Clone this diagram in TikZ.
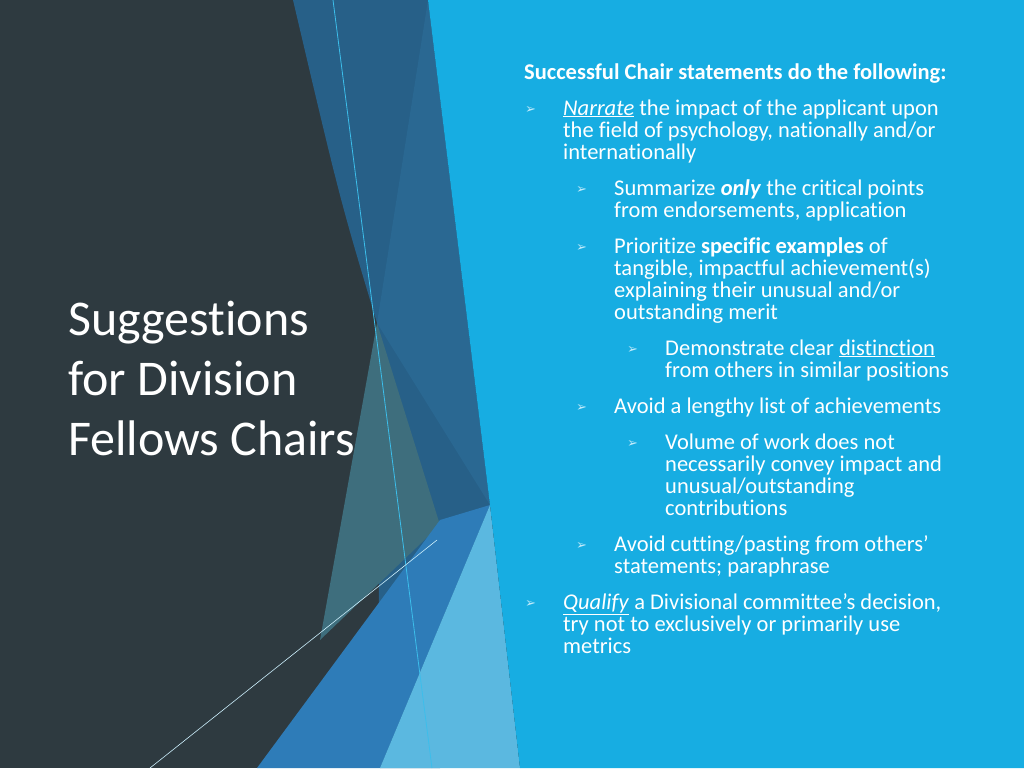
\documentclass[tikz,border=0pt]{standalone}
\usepackage{fontspec}
\setmainfont{Carlito}[RawFeature=-liga]
\newfontfamily\djv{DejaVu Sans}
\begin{document}
\begin{tikzpicture}[x=1pt,y=-1pt,
  t/.style={anchor=base west,inner sep=0pt,text=white,font=\fontsize{22.5}{25}\selectfont},
  ti/.style={anchor=base west,inner sep=0pt,text=white,font=\fontsize{50}{56}\selectfont},
  bl/.style={anchor=base west,inner sep=0pt,text=white!75!cyan,font=\djv\fontsize{13}{15}\selectfont}]
\useasboundingbox (0,0) rectangle (1024,768);
\fill[fill={rgb,255:red,46;green,58;blue,64}] (0,0) rectangle (1024,768);
\fill[fill={rgb,255:red,39;green,96;blue,136}] (293,0) -- (428,0) -- (490,505) -- (440,768) -- (380,768) -- (377,323) .. controls (340,200) .. (293,0) -- cycle;
\fill[fill={rgb,255:red,42;green,104;blue,146}] (377,323) -- (428,0) -- (490,505) -- cycle;
\fill[fill={rgb,255:red,62;green,110;blue,125}] (377,323) -- (320,640) -- (440,525) -- cycle;
\fill[fill={rgb,255:red,46;green,124;blue,184}] (257,768) -- (440,520) -- (490,505) -- (380,768) -- cycle;
\fill[fill={rgb,255:red,91;green,184;blue,224}] (380,768) -- (490,505) -- (520,768) -- cycle;
\fill[fill={rgb,255:red,23;green,173;blue,226}] (428,0) -- (1024,0) -- (1024,768) -- (520,768) -- (490,505) -- cycle;
\coordinate (c1) at (333,0); \coordinate (c2) at (432,768);
\draw[line width=0.8pt,color={rgb,255:red,60;green,190;blue,235}] (c1) -- (c2);
\coordinate (w1) at (150,768); \coordinate (w2) at (437,540);
\draw[line width=0.6pt,white!80!cyan] (w1) -- (w2);
\node[ti] (a1) at (68,335) {Suggestions};
\node[ti] (a2) at (68,395) {for Division};
\node[ti] (a3) at (68,455) {Fellows Chairs};
\node[t,font=\bfseries\fontsize{22.5}{25}\selectfont] (h) at (524,79) {Successful Chair statements do the following:};
\node[bl] (b1) at (525,113) {➢};
\node[t] (l1) at (563,115) {\underline{\textit{Narrate}} the impact of the applicant upon};
\node[t] (l2) at (563,137) {the field of psychology, nationally and/or};
\node[t] (l3) at (563,159) {internationally};
\node[bl] (b2) at (576,193) {➢};
\node[t] (l4) at (614,195) {Summarize \textbf{\textit{only}} the critical points};
\node[t] (l5) at (614,217) {from endorsements, application};
\node[bl] (b3) at (576,251) {➢};
\node[t] (l6) at (614,253) {Prioritize \textbf{specific examples} of};
\node[t] (l7) at (614,275) {tangible, impactful achievement(s)};
\node[t] (l8) at (614,297) {explaining their unusual and/or};
\node[t] (l9) at (614,319) {outstanding merit};
\node[bl] (b4) at (627,353) {➢};
\node[t] (l10) at (665,355) {Demonstrate clear \underline{distinction}};
\node[t] (l11) at (665,377) {from others in similar positions};
\node[bl] (b5) at (576,411) {➢};
\node[t] (l12) at (614,413) {Avoid a lengthy list of achievements};
\node[bl] (b6) at (627,447) {➢};
\node[t] (l13) at (665,449) {Volume of work does not};
\node[t] (l14) at (665,471) {necessarily convey impact and};
\node[t] (l15) at (665,493) {unusual/outstanding};
\node[t] (l16) at (665,515) {contributions};
\node[bl] (b7) at (576,549) {➢};
\node[t] (l17) at (614,551) {Avoid cutting/pasting from others’};
\node[t] (l18) at (614,573) {statements; paraphrase};
\node[bl] (b8) at (525,607) {➢};
\node[t] (l19) at (563,609) {\underline{\textit{Qualify}} a Divisional committee’s decision,};
\node[t] (l20) at (563,631) {try not to exclusively or primarily use};
\node[t] (l21) at (563,653) {metrics};
\end{tikzpicture}
\end{document}
